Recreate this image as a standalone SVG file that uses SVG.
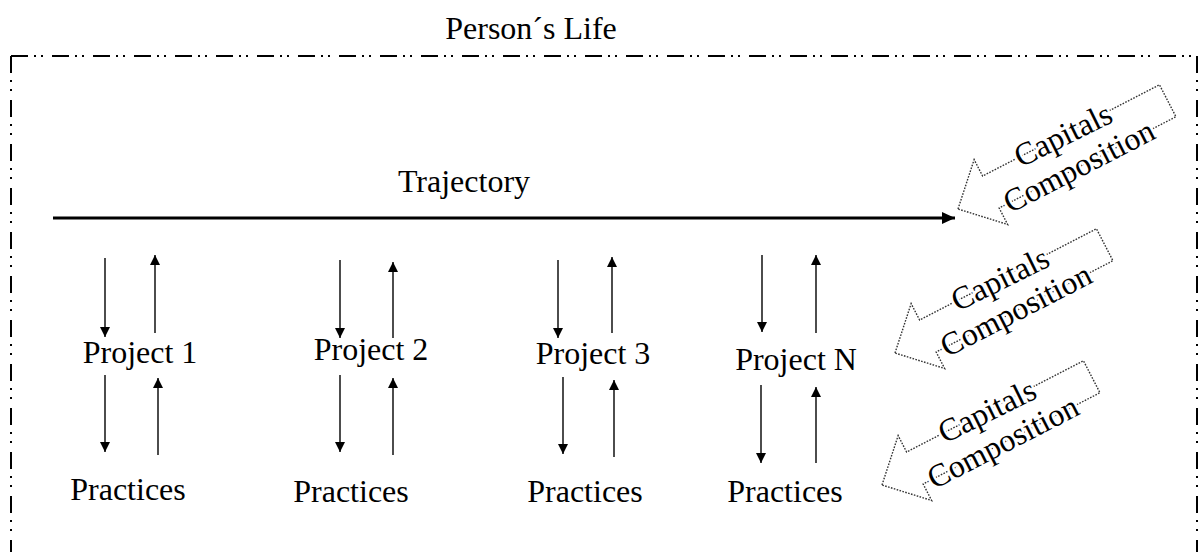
<svg xmlns="http://www.w3.org/2000/svg" width="1201" height="552" viewBox="0 0 1201 552">
<defs>
<style>
text{font-family:"Liberation Serif","Times New Roman",serif;fill:#000;}
.lbl{font-size:32px;text-anchor:middle;}
.cap{font-size:32px;text-anchor:middle;stroke:#fff;stroke-width:5px;paint-order:stroke;stroke-linejoin:round;}
.conn{stroke:#000;stroke-width:1.4;fill:none;marker-end:url(#ah);}
.traj{stroke:#000;stroke-width:3.2;fill:none;marker-end:url(#ahb);}
.blk{fill:#fff;stroke:#333;stroke-width:1.4;stroke-dasharray:1.6 1.4;}
.bord{stroke:#000;stroke-width:2;fill:none;}
</style>
<marker id="ah" markerUnits="userSpaceOnUse" markerWidth="10" markerHeight="10" refX="10" refY="5" orient="auto" viewBox="0 0 10 10">
<path d="M0,0 L10,5 L0,10 Z" fill="#000"/>
</marker>
<marker id="ahb" markerUnits="userSpaceOnUse" markerWidth="13" markerHeight="12" refX="13" refY="6" orient="auto" viewBox="0 0 13 12">
<path d="M0,0 L13,6 L0,12 Z" fill="#000"/>
</marker>
<path id="blockArrow" d="M0,0 L37,-36.5 L37,-18 L236,-18 L236,18 L37,18 L37,36.5 Z"/>
</defs>

<g id="life-frame">
<line class="bord" x1="11" y1="56" x2="1197" y2="56" stroke-dasharray="17 6 2 5 2 9"/>
<line class="bord" x1="11" y1="56" x2="11" y2="560" stroke-dasharray="17 7 2 7 2 9"/>
<line class="bord" x1="1197" y1="56" x2="1197" y2="560" stroke-dasharray="17 7 2 7 2 9"/>
<text class="lbl" x="531" y="39">Person´s Life</text>
</g>

<g id="trajectory">
<text class="lbl" x="464" y="192">Trajectory</text>
</g>

<g id="project1"><text class="lbl" x="140" y="363">Project 1</text></g>
<g id="project2"><text class="lbl" x="371" y="360">Project 2</text></g>
<g id="project3"><text class="lbl" x="593" y="364">Project 3</text></g>
<g id="projectN"><text class="lbl" x="796" y="370">Project N</text></g>

<g id="practices1"><text class="lbl" x="128" y="500">Practices</text></g>
<g id="practices2"><text class="lbl" x="351" y="502">Practices</text></g>
<g id="practices3"><text class="lbl" x="585" y="502">Practices</text></g>
<g id="practicesN"><text class="lbl" x="785" y="502">Practices</text></g>

<g id="capitals1" transform="translate(958,209) rotate(-27.3)">
<use href="#blockArrow" class="blk"/>
<text class="cap" x="127" y="-7" transform="rotate(1 127 -7)">Capitals</text>
<text class="cap" x="127" y="28">Composition</text>
</g>
<g id="capitals2" transform="translate(895,353) rotate(-27.3)">
<use href="#blockArrow" class="blk"/>
<text class="cap" x="127" y="-7" transform="rotate(1 127 -7)">Capitals</text>
<text class="cap" x="127" y="28">Composition</text>
</g>
<g id="capitals3" transform="translate(882,485) rotate(-27.3)">
<use href="#blockArrow" class="blk"/>
<text class="cap" x="127" y="-7" transform="rotate(1 127 -7)">Capitals</text>
<text class="cap" x="127" y="28">Composition</text>
</g>

<g id="connectors">
<line class="traj" x1="53" y1="218" x2="955" y2="218"/>
<line class="conn" x1="105" y1="258" x2="105" y2="337"/>
<line class="conn" x1="155" y1="333" x2="155" y2="255"/>
<line class="conn" x1="105" y1="375" x2="105" y2="452"/>
<line class="conn" x1="158" y1="455" x2="158" y2="378"/>
<line class="conn" x1="340" y1="260" x2="340" y2="338"/>
<line class="conn" x1="393" y1="338" x2="393" y2="262"/>
<line class="conn" x1="340" y1="375" x2="340" y2="452"/>
<line class="conn" x1="393" y1="455" x2="393" y2="378"/>
<line class="conn" x1="558" y1="260" x2="558" y2="338"/>
<line class="conn" x1="612" y1="333" x2="612" y2="257"/>
<line class="conn" x1="563" y1="377" x2="563" y2="454"/>
<line class="conn" x1="614" y1="457" x2="614" y2="380"/>
<line class="conn" x1="762" y1="255" x2="762" y2="332"/>
<line class="conn" x1="816" y1="333" x2="816" y2="255"/>
<line class="conn" x1="761" y1="385" x2="761" y2="463"/>
<line class="conn" x1="816" y1="463" x2="816" y2="387"/>
</g>
</svg>
